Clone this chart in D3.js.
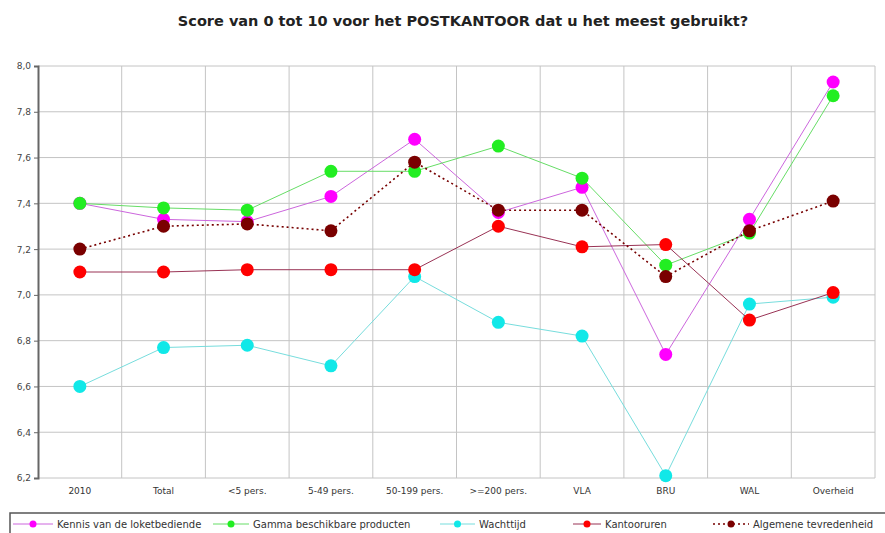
<!DOCTYPE html>
<meta charset="utf-8">
<style>
body{margin:0;background:white;}
svg{display:block;font-family:"DejaVu Sans",Verdana,sans-serif;}
.grid line{stroke:#c4c4c4;stroke-width:1;}
.ylab{font-size:9px;fill:#444;}
.xlab{font-size:9px;fill:#333;}
.leg{font-size:10px;fill:#333;}
</style>
<body>
<script src="https://cdnjs.cloudflare.com/ajax/libs/d3/7.8.5/d3.min.js"></script>
<script>
var categories = ["2010","Total","<5 pers.","5-49 pers.","50-199 pers.",">=200 pers.","VLA","BRU","WAL","Overheid"];
var kennis      = [7.40, 7.33, 7.32, 7.43, 7.68, 7.36, 7.47, 6.74, 7.33, 7.93];
var gamma       = [7.40, 7.38, 7.37, 7.54, 7.54, 7.65, 7.51, 7.13, 7.27, 7.87];
var wachttijd   = [6.60, 6.77, 6.78, 6.69, 7.08, 6.88, 6.82, 6.21, 6.96, 6.99];
var kantooruren = [7.10, 7.10, 7.11, 7.11, 7.11, 7.30, 7.21, 7.22, 6.89, 7.01];
var algemeen    = [7.20, 7.30, 7.31, 7.28, 7.58, 7.37, 7.37, 7.08, 7.28, 7.41];
var yTicks = [6.2, 6.4, 6.6, 6.8, 7.0, 7.2, 7.4, 7.6, 7.8, 8.0];

var series = [
  {name:"Kennis van de loketbediende", values:kennis, dot:"#ff00ff", line:"#cc66dd", dash:null},
  {name:"Gamma beschikbare producten", values:gamma, dot:"#22ee22", line:"#66dd66", dash:null},
  {name:"Wachttijd", values:wachttijd, dot:"#11e8e8", line:"#77dddd", dash:null},
  {name:"Kantooruren", values:kantooruren, dot:"#ff0000", line:"#993355", dash:null},
  {name:"Algemene tevredenheid", values:algemeen, dot:"#7a0000", line:"#770000", dash:"2,3"}
];

var W = 885, H = 533;
var mLeft = 38, mRight = 875, mTop = 66, mBottom = 478;

var svg = d3.select("body").append("svg").attr("width", W).attr("height", H);

var x = d3.scaleBand().domain(categories).range([mLeft, mRight]);
var y = d3.scaleLinear().domain([6.2, 8.0]).range([mBottom, mTop]);
var fmt = function(v){ return d3.format(".1f")(v).replace(".", ","); };

svg.append("text")
  .attr("x", 463).attr("y", 26)
  .attr("text-anchor", "middle")
  .style("font-size", "14.5px").style("font-weight", "bold").style("fill", "#222")
  .text("Score van 0 tot 10 voor het POSTKANTOOR dat u het meest gebruikt?");

// grid
var grid = svg.append("g").attr("class", "grid");
grid.selectAll(".h").data(yTicks).enter().append("line")
  .attr("x1", mLeft).attr("x2", mRight)
  .attr("y1", function(d){ return y(d); }).attr("y2", function(d){ return y(d); });
grid.selectAll(".v").data(categories.slice(1)).enter().append("line")
  .attr("x1", function(d){ return x(d); }).attr("x2", function(d){ return x(d); })
  .attr("y1", mTop).attr("y2", mBottom);
grid.append("line").attr("x1", mRight).attr("x2", mRight).attr("y1", mTop).attr("y2", mBottom);

// y axis
var yAxis = d3.axisLeft(y).tickValues(yTicks).tickFormat(fmt).tickSize(4);
var ya = svg.append("g").attr("transform", "translate(" + mLeft + ",0)").call(yAxis);
ya.select(".domain").attr("stroke", "#666").attr("stroke-width", 2);
ya.selectAll(".tick line").attr("stroke", "#666");
ya.selectAll("text").attr("class", "ylab").attr("x", -7).style("font-family", "DejaVu Sans,sans-serif");

// x labels
var xAxis = d3.axisBottom(x).tickSize(0).tickPadding(10);
var xa = svg.append("g").attr("transform", "translate(0," + mBottom + ")").call(xAxis);
xa.select(".domain").remove();
xa.selectAll("text").attr("class", "xlab").style("font-family", "DejaVu Sans,sans-serif");

var cx = function(i){ return x(categories[i]) + x.bandwidth() / 2; };
var line = d3.line().x(function(d, i){ return cx(i); }).y(function(d){ return y(d); });

series.forEach(function(s){
  svg.append("path").datum(s.values)
    .attr("d", line).attr("fill", "none")
    .attr("stroke", s.line).attr("stroke-width", s.dash ? 1.6 : 1)
    .attr("stroke-dasharray", s.dash);
});
series.forEach(function(s){
  svg.selectAll(null).data(s.values).enter().append("circle")
    .attr("cx", function(d, i){ return cx(i); })
    .attr("cy", function(d){ return y(d); })
    .attr("r", 6.5)
    .attr("fill", s.dot);
});

// legend
var lg = svg.append("g");
lg.append("rect").attr("x", 10).attr("y", 513).attr("width", 890).attr("height", 24)
  .attr("fill", "white").attr("stroke", "#555").attr("stroke-width", 1.5);
var legX = [13, 213, 440, 573, 713];
var legLen = [40, 36, 35, 28, 36];
series.forEach(function(s, i){
  var g = lg.append("g").attr("transform", "translate(" + legX[i] + ",524)");
  g.append("line").attr("x1", 0).attr("x2", legLen[i]).attr("y1", 0).attr("y2", 0)
    .attr("stroke", s.line).attr("stroke-width", s.dash ? 1.6 : 1).attr("stroke-dasharray", s.dash);
  g.append("circle").attr("cx", legLen[i] / 2).attr("cy", 0).attr("r", 3.5).attr("fill", s.dot);
  g.append("text").attr("class", "leg").attr("x", legLen[i] + 4).attr("y", 3.5).text(s.name);
});
</script>
</body>
